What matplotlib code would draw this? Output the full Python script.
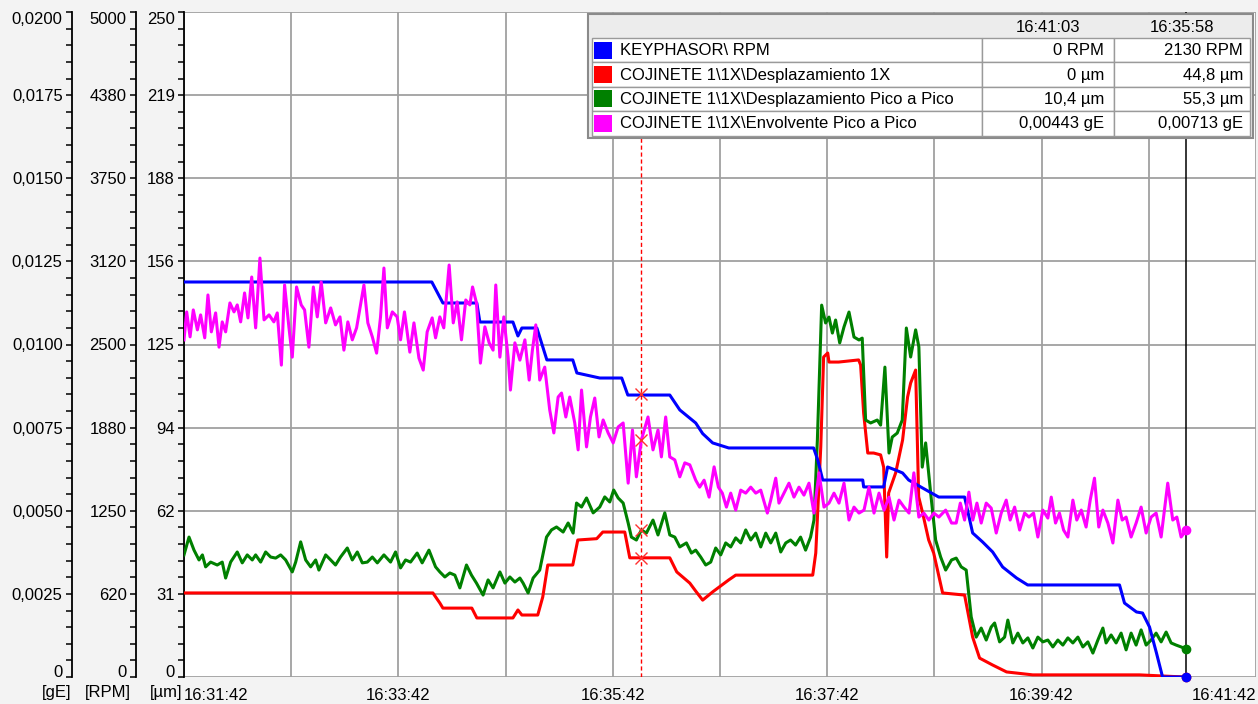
import numpy as np
import matplotlib.pyplot as plt
from matplotlib.ticker import MultipleLocator, FixedLocator
from matplotlib.patches import Rectangle

plt.rcParams['font.family'] = ['Liberation Sans', 'DejaVu Sans']
plt.rcParams['font.size'] = 12

# time in seconds after 16:31:42
x_ticks = [0, 120, 240, 360, 480, 600]
x_labels = ['16:31:42', '16:33:42', '16:35:42', '16:37:42', '16:39:42', '16:41:42']
um_labels = ['0', '31', '62', '94', '125', '156', '188', '219', '250']
rpm_labels = ['0', '620', '1250', '1880', '2500', '3120', '3750', '4380', '5000']
ge_labels = ['0', '0,0025', '0,0050', '0,0075', '0,0100', '0,0125', '0,0150', '0,0175', '0,0200']

# KEYPHASOR RPM
rpm_t = [0, 138.7, 144.9, 163.9, 165.6, 184.1, 186.9, 189.1, 197.5, 203.1, 217.6, 219.9,
         232.7, 245.0, 248.4, 271.9, 277.5, 286.4, 290.3, 295.9, 304.9, 352.4, 354.7, 357.5,
         379.9, 380.4, 391.6, 393.8, 398.3, 402.2, 405.6, 413.4, 422.4, 436.9, 441.4, 447.0,
         452.6, 458.2, 466.0, 472.2, 523.6, 526.4, 533.1, 536.5, 540.4, 544.3, 547.7, 561.2]
rpm_v = [2970, 2970, 2812, 2812, 2669, 2669, 2564, 2624, 2624, 2384, 2384, 2286,
         2248, 2248, 2120, 2120, 2008, 1910, 1830, 1760, 1722, 1722, 1632, 1481,
         1481, 1429, 1429, 1579, 1556, 1534, 1481, 1421, 1353, 1353, 1083, 1015,
         940, 827, 744, 692, 692, 556, 489, 481, 376, 180, 0, 0]

# Desplazamiento 1X (um)
d1x_t = [0, 139.3, 143.2, 144.9, 161.1, 163.9, 184.1, 186.9, 189.1, 198.0, 200.8, 203.6,
         217.6, 220.4, 231.0, 234.4, 246.7, 249.5, 271.9, 275.8, 283.1, 286.4, 290.3, 295.9,
         304.9, 308.8, 351.9, 353.6, 356.4, 358.0, 360.3, 361.0, 366.4, 377.6, 378.7, 380.4,
         382.7, 386.0, 389.9, 391.6, 393.3, 394.4, 398.3, 402.2, 405.0, 406.7, 409.5, 411.2,
         413.4, 416.8, 419.6, 424.6, 436.9, 441.4, 445.3, 452.6, 460.4, 475.0, 534.8, 553.3, 561.2]
d1x_v = [31.6, 31.6, 27.8, 25.9, 25.9, 22.2, 22.2, 25.2, 23.3, 23.3, 30.1, 42.1,
         42.1, 51.5, 52.0, 54.5, 54.5, 44.8, 44.8, 39.5, 35.3, 32.3, 28.9, 32.0,
         36.5, 38.3, 38.3, 46.6, 86.5, 120.3, 121.8, 118.4, 118.4, 119.2, 117.3, 99.2,
         84.2, 84.2, 83.5, 78.9, 45.1, 69.2, 76.7, 89.1, 105.3, 110.5, 115.4, 67.7,
         61.7, 51.5, 46.6, 31.6, 30.8, 15.0, 7.1, 4.5, 1.9, 0.8, 0.8, 0.2, 0.0]

# Desplazamiento Pico a Pico (um)
dpp_t = [0, 2.8, 5.6, 8.4, 10.3, 12.1, 14.9, 18.6, 21.4, 23.3, 26.1, 29.8, 32.6, 35.4, 38.2,
         40.1, 42.9, 45.7, 48.5, 51.3, 54.1, 56.9, 60.6, 62.5, 65.3, 68.1, 70.9, 73.7, 75.5,
         79.3, 82.1, 84.8, 87.6, 91.4, 94.2, 97.0, 99.8, 102.6, 105.4, 108.2, 111.9, 115.6,
         118.4, 121.2, 124.0, 126.8, 130.5, 133.3, 137.1, 140.8, 143.2,
         146.0, 148.8, 151.6, 154.4, 158.1, 160.9, 163.7, 167.4, 170.2, 173.0, 176.8, 179.6,
         182.4, 185.2, 188.0, 189.8, 192.6, 195.4, 199.1, 202.9, 205.7, 208.5, 212.2, 215.0,
         217.8, 219.7, 222.5, 225.3, 229.0, 232.7, 235.5, 238.3, 240.5, 243.0, 245.8, 248.6,
         250.4, 253.2, 256.0, 258.8, 262.5, 265.3, 269.1, 271.9, 274.7, 277.5, 281.2, 284.0, 286.4,
         289.2, 292.0, 294.8, 297.6, 300.4, 303.2, 306.0, 308.8, 311.6, 314.4, 317.2, 320.0,
         322.8, 325.6, 328.4, 331.2, 334.0, 336.8, 339.5, 342.3, 345.1, 347.9, 350.7, 352.6,
         354.5, 356.9, 359.1, 361.0, 362.9, 364.7, 367.0, 369.4, 372.2, 375.0, 377.8, 379.6,
         381.5, 384.3, 388.0, 389.9, 392.3, 394.6, 396.4, 399.2, 402.0, 404.3, 406.7, 409.5,
         411.3, 413.2, 415.1, 417.9, 420.7, 423.5, 426.3, 429.6,
         432.2, 435.0, 437.8, 440.6, 443.4, 446.2, 449.0, 451.8, 453.7, 456.5, 459.3, 461.1,
         463.9, 466.7, 469.5, 472.3, 475.1, 477.9, 480.7, 483.5, 486.3, 489.1, 491.9, 494.7,
         497.5, 500.3, 503.1, 505.9, 508.7, 511.5, 514.3, 516.1, 518.9, 521.7, 524.5, 527.3,
         530.1, 532.9, 535.7, 538.5, 541.3, 544.1, 546.9, 549.7, 552.5, 555.3, 558.1, 561.2]
dpp_v = [45.9, 52.6, 47.7, 44.0, 45.9, 41.4, 43.2, 42.1, 43.2, 37.2, 43.2, 47.0, 42.9, 45.9, 44.0,
         45.9, 43.2, 47.0, 45.1, 44.7, 45.9, 44.0, 39.5, 43.2, 50.8, 44.0, 41.4, 44.0, 40.2,
         45.9, 44.0, 42.1, 45.1, 48.5, 44.0, 47.0, 42.9, 43.2, 45.1, 42.9, 45.9, 43.2,
         47.0, 41.0, 44.0, 43.2, 46.6, 42.9, 47.7, 41.4, 39.5,
         37.6, 39.1, 38.3, 33.5, 42.1, 38.3, 35.3, 30.8, 36.5, 33.5, 39.5, 35.3,
         37.6, 35.7, 37.2, 35.3, 31.6, 37.2, 40.2, 52.6, 55.3, 56.4, 54.5, 57.9,
         54.1, 65.4, 63.9, 67.3, 61.7, 63.9, 67.7, 65.8, 70.3, 67.3, 65.4, 57.9,
         52.6, 51.5, 55.3, 54.1, 59.0, 53.4, 61.7, 53.4, 52.6, 48.9, 50.4, 46.6, 47.7,
         45.1, 42.1, 43.2, 48.5, 45.9, 50.4, 48.9, 52.3, 50.4, 55.3, 51.5, 54.1,
         48.9, 54.1, 50.4, 54.1, 47.0, 50.4, 51.5, 49.6, 52.6, 47.7, 52.6, 59.0,
         89.1, 139.8, 133.1, 135.3, 129.3, 134.2, 125.6, 131.6, 137.2, 127.8, 126.7, 127.4,
         96.6, 95.5, 96.6, 94.7, 116.5, 84.2, 90.2, 91.7, 96.6, 131.2, 120.3, 130.5,
         124.1, 78.9, 88.0, 69.2, 51.5, 45.1, 40.2, 44.0,
         44.7, 41.4, 40.2, 22.6, 15.0, 18.4, 13.9, 18.8, 20.3, 13.2, 15.0, 21.4,
         12.8, 16.5, 12.8, 14.7, 10.9, 15.0, 13.2, 13.9, 11.3, 13.9, 12.0, 14.7,
         12.8, 15.0, 11.3, 13.2, 9.0, 13.9, 18.4, 12.8, 15.8, 12.8, 16.5, 10.2,
         16.5, 12.0, 17.7, 12.0, 13.9, 16.5, 13.2, 16.9, 12.8, 12.0, 11.3, 10.4]

# Envolvente Pico a Pico (gE)
env_t = [0, 1.5, 3.4, 5.2, 7.5, 9.3, 11.6, 13.4, 15.3, 17.7, 19.6, 21.4, 23.3, 25.7, 28.0,
         29.8, 31.7, 33.9, 35.8, 37.9, 40.1, 42.5, 44.8, 47.6, 50.3, 52.2, 54.5, 56.3, 58.7,
         60.6, 63.0, 65.6, 67.5, 69.9, 72.4, 74.6, 76.8, 79.3, 82.1, 84.8, 87.3, 89.5, 91.7,
         94.2, 96.6, 98.8, 100.7, 102.9, 105.4, 107.8, 110.0, 111.9, 113.8, 116.6, 119.3,
         121.2, 123.4, 126.4, 128.7, 131.5, 133.9, 136.1, 138.9, 140.8, 143.2,
         145.4, 148.4, 150.7, 152.9, 155.3, 157.7, 160.0, 161.5, 163.7, 165.9, 168.4, 170.8,
         173.0, 174.5, 176.8, 179.0, 181.4, 182.7, 185.2, 188.0, 190.8, 193.2, 195.0, 196.9,
         199.1, 201.9, 204.7, 207.0, 209.4, 211.3, 213.7, 215.9, 218.7, 220.6, 222.5, 225.3,
         227.5, 229.9, 232.3, 234.6, 237.4, 240.2, 243.0, 245.8, 248.6, 251.0, 253.2, 256.0,
         259.7, 262.5, 265.3, 267.2, 269.6, 271.9, 274.7, 277.5, 280.3, 283.1, 286.4,
         288.6, 291.1, 293.9, 296.7, 299.1, 301.3, 303.6, 306.0, 308.8, 311.6, 314.4, 317.2,
         320.0, 322.8, 326.5, 328.4, 331.2, 333.0, 335.8, 338.6, 341.4, 344.2, 347.0, 349.8,
         352.6, 355.4, 358.2, 361.0, 363.8, 366.6, 369.4, 372.2, 375.0, 377.8, 380.6, 383.4,
         386.2, 389.0, 391.8, 394.6, 397.4, 400.2, 403.0, 405.8, 408.5, 411.3, 414.1, 416.9,
         419.7, 422.5, 426.3, 429.6,
         432.2, 434.5, 436.9, 439.3, 441.5, 443.8, 446.2, 449.0, 451.8, 454.6, 457.4, 460.2,
         462.4, 464.9, 467.7, 470.5, 472.9, 475.5, 477.9, 480.7, 483.5, 485.4, 487.8, 490.0,
         492.3, 494.7, 497.5, 499.7, 502.2, 504.9, 507.2, 509.6, 512.0, 514.3, 517.1, 519.9,
         522.7, 525.1, 527.3, 530.1, 532.9, 535.7, 538.5, 541.3, 544.1, 546.9, 550.6, 553.4,
         555.7, 558.1, 561.2]
env_v = [0.01014, 0.01098, 0.01023, 0.01104, 0.01044, 0.01089, 0.01020, 0.01149, 0.01038, 0.01095,
         0.00992, 0.01068, 0.01038, 0.01125, 0.01098, 0.01119, 0.01068, 0.01155, 0.01080, 0.01203,
         0.01050, 0.01260, 0.01074, 0.01089, 0.01068, 0.01095, 0.00938, 0.01179, 0.01053, 0.00962,
         0.01173, 0.01119, 0.01104, 0.00992, 0.01173, 0.01083, 0.01188, 0.01065, 0.01110, 0.01059,
         0.01083, 0.00983, 0.01068, 0.01014, 0.01050, 0.01119, 0.01179, 0.01065, 0.01023, 0.00974,
         0.01083, 0.01230, 0.01050, 0.01098, 0.01083, 0.01014, 0.01098, 0.00977, 0.01065, 0.00959,
         0.00923, 0.01038, 0.01080, 0.01020, 0.01083,
         0.01050, 0.01239, 0.01065, 0.01128, 0.01014, 0.01134, 0.01119, 0.01173, 0.01125, 0.00944,
         0.01053, 0.01005, 0.00983, 0.01179, 0.00962, 0.01083, 0.00962, 0.00863, 0.01005, 0.00953,
         0.01014, 0.00893, 0.00983, 0.01059, 0.00893, 0.00932, 0.00803, 0.00734, 0.00842, 0.00854,
         0.00782, 0.00842, 0.00764, 0.00683, 0.00863, 0.00692, 0.00782, 0.00839, 0.00722, 0.00773,
         0.00734, 0.00704, 0.00752, 0.00764, 0.00583, 0.00743, 0.00602, 0.00713,
         0.00782, 0.00683, 0.00743, 0.00662, 0.00782, 0.00662, 0.00653, 0.00602, 0.00644, 0.00638,
         0.00592,
         0.00571, 0.00592, 0.00541, 0.00632, 0.00571, 0.00553, 0.00511, 0.00553, 0.00502, 0.00562,
         0.00553, 0.00571, 0.00553, 0.00562, 0.00493, 0.00532, 0.00598, 0.00523, 0.00553, 0.00583,
         0.00541, 0.00571, 0.00547, 0.00583, 0.00493, 0.00614, 0.00511, 0.00523, 0.00553, 0.00523,
         0.00583, 0.00472, 0.00511, 0.00493, 0.00502, 0.00571, 0.00493, 0.00553, 0.00502, 0.00541,
         0.00472, 0.00532, 0.00511, 0.00493, 0.00614, 0.00481, 0.00493, 0.00472, 0.00493, 0.00481,
         0.00502, 0.00463,
         0.00463, 0.00523, 0.00472, 0.00556, 0.00472, 0.00523, 0.00463, 0.00523, 0.00508, 0.00433,
         0.00493, 0.00532, 0.00472, 0.00511, 0.00442, 0.00493, 0.00481, 0.00493, 0.00421, 0.00502,
         0.00478, 0.00541, 0.00463, 0.00493, 0.00442, 0.00421, 0.00532, 0.00472, 0.00502, 0.00451,
         0.00532, 0.00598, 0.00451, 0.00502, 0.00463, 0.00403, 0.00532, 0.00472, 0.00481, 0.00421,
         0.00463, 0.00511, 0.00433, 0.00481, 0.00493, 0.00421, 0.00583, 0.00472, 0.00481, 0.00421,
         0.00443]

# cursors and legend table
cursor_a, cursor_b = 561, 256
head_a, head_b = '16:41:03', '16:35:58'
names = ['KEYPHASOR\\ RPM', 'COJINETE 1\\1X\\Desplazamiento 1X',
         'COJINETE 1\\1X\\Desplazamiento Pico a Pico', 'COJINETE 1\\1X\\Envolvente Pico a Pico']
vals_a = ['0 RPM', '0 µm', '10,4 µm', '0,00443 gE']
vals_b = ['2130 RPM', '44,8 µm', '55,3 µm', '0,00713 gE']
at_a = [0, 0, 10.4, 0.00443]
at_b = [2130, 44.8, 55.3, 0.00713]
colors = ['#0000ff', '#ff0000', '#008000', '#ff00ff']

W, H = 1258, 704
bg = '#f3f3f3'
fig = plt.figure(figsize=(W / 100, H / 100), dpi=100, facecolor=bg)
ax = fig.add_axes([184 / W, 27 / H, 1072 / W, 665 / H])
ax.set_facecolor('white')
ax_rpm = ax.twinx()
ax_ge = ax.twinx()

def style_y(a, lim, labels, minor, offset):
    a.set_ylim(0, lim)
    a.yaxis.set_major_locator(FixedLocator(np.linspace(0, lim, 9)))
    a.set_yticklabels(labels)
    a.yaxis.set_minor_locator(MultipleLocator(minor))
    a.yaxis.set_ticks_position('left')
    for s in ['top', 'bottom', 'right']:
        a.spines[s].set_visible(False)
    a.spines['left'].set_visible(True)
    a.spines['left'].set_position(('outward', offset))
    a.spines['left'].set_linewidth(1.3)
    a.tick_params(axis='y', which='both', direction='out', length=4.5, width=1.1,
                  pad=2.2, left=True, right=False, labelleft=True, labelright=False,
                  labelsize=12, colors='black')
    tl = a.get_yticklabels()
    tl[0].set_va('baseline')
    tl[-1].set_va('top')

style_y(ax, 250, um_labels, 6.25, 0)
style_y(ax_rpm, 5000, rpm_labels, 125, 34.56)
style_y(ax_ge, 0.02, ge_labels, 0.0005, 80.64)

ax.set_xlim(0, 600)
ax.xaxis.set_major_locator(FixedLocator(x_ticks))
ax.set_xticklabels(x_labels)
ax.xaxis.set_minor_locator(FixedLocator([60, 180, 300, 420, 540]))
ax.tick_params(axis='x', which='both', length=0, pad=8, labelsize=12)
xl = ax.get_xticklabels()
xl[0].set_ha('left')
xl[-1].set_ha('right')
ax.grid(True, which='major', color='#a0a0a0', lw=1.3)
ax.grid(True, which='minor', axis='x', color='#a0a0a0', lw=1.3)
ax.set_axisbelow(True)

ax.axvline(cursor_b, color='#ff0000', lw=1.0, ls=(0, (3, 2)), zorder=1)
ax.axvline(cursor_a, color='black', lw=1.1, zorder=1)

ax_rpm.plot(rpm_t, rpm_v, color=colors[0], lw=2.2)
ax.plot(d1x_t, d1x_v, color=colors[1], lw=2.2, zorder=3)
ax.plot(dpp_t, dpp_v, color=colors[2], lw=2.2, zorder=3)
ax_ge.plot(env_t, env_v, color=colors[3], lw=2.2)

axes_of = [ax_rpm, ax, ax, ax_ge]
for a, va, vb, c in zip(axes_of, at_a, at_b, colors):
    a.plot([cursor_b], [vb], marker='x', color='#ff3030', ms=8, mew=1.0, zorder=5)
    a.plot([cursor_a], [va], marker='o', color=c, ms=6, zorder=5, clip_on=False)

ylab = 1 - 692 / H
fig.text(71 / W, ylab, '[gE]', ha='right', va='center', fontsize=12)
fig.text(131 / W, ylab, '[RPM]', ha='right', va='center', fontsize=12)
fig.text(182 / W, ylab, '[µm]', ha='right', va='center', fontsize=12)

# legend table drawn in pixel coordinates
tax = fig.add_axes([0, 0, 1, 1], zorder=10)
tax.set_xlim(0, W)
tax.set_ylim(H, 0)
tax.axis('off')
tax.add_patch(Rectangle((588, 14), 665, 124, facecolor='#ececec', edgecolor='#8a8a8a', lw=1.5))
c0, c1, c2, c3 = 592, 982, 1114, 1250
tax.text((c1 + c2) / 2, 27, head_a, ha='center', va='center', fontsize=12)
tax.text((c2 + c3) / 2, 27, head_b, ha='center', va='center', fontsize=12)
row_h = 24.4
for i in range(4):
    y0 = 38 + i * row_h
    for xa, xb in [(c0, c1), (c1, c2), (c2, c3)]:
        tax.add_patch(Rectangle((xa, y0), xb - xa, row_h, facecolor='white',
                                edgecolor='#9a9a9a', lw=1.0))
    tax.add_patch(Rectangle((594, y0 + 3.5), 18, 17, facecolor=colors[i], edgecolor='none'))
    yc = y0 + row_h / 2 + 0.5
    tax.text(620, yc, names[i], ha='left', va='center', fontsize=12)
    tax.text(c2 - 10, yc, vals_a[i], ha='right', va='center', fontsize=12)
    tax.text(c3 - 7, yc, vals_b[i], ha='right', va='center', fontsize=12)

fig.savefig('out.png', dpi=100, facecolor=bg)
